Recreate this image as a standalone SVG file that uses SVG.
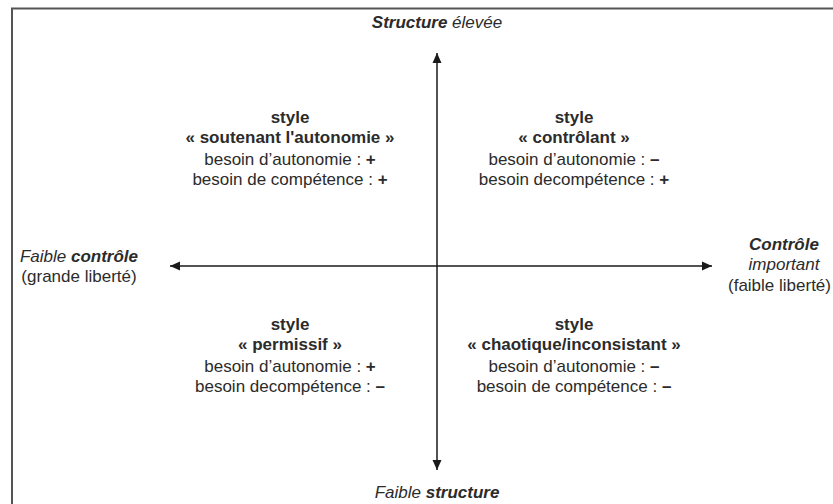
<svg xmlns="http://www.w3.org/2000/svg" width="833" height="504" viewBox="0 0 833 504">
<defs>
<marker id="ah" viewBox="0 0 10 10" refX="10" refY="5" markerWidth="12" markerHeight="10" markerUnits="userSpaceOnUse" orient="auto-start-reverse">
<path d="M0,0.5 L10,5 L0,9.5 z" fill="#1a1a1a"/>
</marker>
<style>
text{font-family:"Liberation Sans",Arial,sans-serif;font-size:17px;fill:#2b2b2b;text-anchor:middle}
.b{font-weight:bold}
.i{font-style:italic}
.ax{stroke:#1a1a1a;stroke-width:1.5;fill:none}
</style>
</defs>
<rect x="12" y="8.5" width="840" height="520" fill="#fff" stroke="#555" stroke-width="2"/>
<g id="connectors">
<line class="ax" x1="437" y1="470" x2="437" y2="53" marker-start="url(#ah)" marker-end="url(#ah)"/>
<line class="ax" x1="170" y1="266" x2="712" y2="266" marker-start="url(#ah)" marker-end="url(#ah)"/>
</g>
<g id="top-label"><text x="437" y="28" class="i"><tspan class="b">Structure</tspan> élevée</text></g>
<g id="bottom-label"><text x="437" y="498" class="i">Faible <tspan class="b">structure</tspan></text></g>
<g id="left-label">
<text x="79" y="262"><tspan class="i">Faible </tspan><tspan class="b i">contrôle</tspan></text>
<text x="79" y="282">(grande liberté)</text>
</g>
<g id="right-label">
<text x="784" y="250" class="b i">Contrôle</text>
<text x="784" y="270" class="i">important</text>
<text x="831" y="291" style="text-anchor:end">(faible liberté)</text>
</g>
<g id="q-top-left">
<text x="290" y="123" class="b">style</text>
<text x="290" y="143" class="b">« soutenant l'autonomie »</text>
<text x="290" y="165">besoin d’autonomie : <tspan class="b">+</tspan></text>
<text x="290" y="185">besoin de compétence : <tspan class="b">+</tspan></text>
</g>
<g id="q-top-right">
<text x="574" y="123" class="b">style</text>
<text x="574" y="143" class="b">« contrôlant »</text>
<text x="574" y="165">besoin d’autonomie : <tspan class="b">–</tspan></text>
<text x="574" y="185">besoin decompétence : <tspan class="b">+</tspan></text>
</g>
<g id="q-bottom-left">
<text x="290" y="330" class="b">style</text>
<text x="290" y="350" class="b">« permissif »</text>
<text x="290" y="372">besoin d’autonomie : <tspan class="b">+</tspan></text>
<text x="290" y="392">besoin decompétence : <tspan class="b">–</tspan></text>
</g>
<g id="q-bottom-right">
<text x="574" y="330" class="b">style</text>
<text x="574" y="350" class="b">« chaotique/inconsistant »</text>
<text x="574" y="372">besoin d’autonomie : <tspan class="b">–</tspan></text>
<text x="574" y="392">besoin de compétence : <tspan class="b">–</tspan></text>
</g>
</svg>
